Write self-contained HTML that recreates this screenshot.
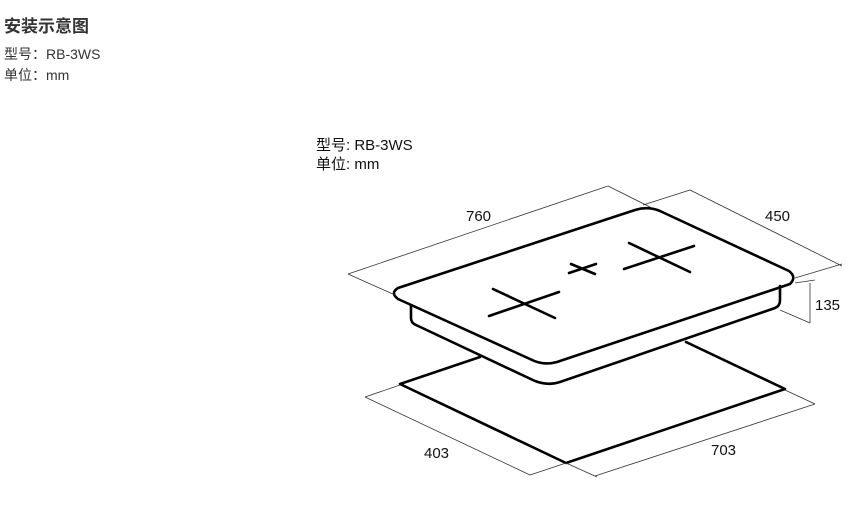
<!DOCTYPE html>
<html><head><meta charset="utf-8"><style>
body{margin:0;width:851px;height:527px;background:#fff;overflow:hidden;position:relative;font-family:"Liberation Sans","Noto Sans CJK SC",sans-serif;}
.t{position:absolute;white-space:nowrap;color:#333;}
</style></head><body>
<div class="t" style="left:4px;top:12px;font-size:17px;font-weight:bold;">安装示意图</div>
<div class="t" style="left:4px;top:44px;font-size:14px;">型号：RB-3WS</div>
<div class="t" style="left:4px;top:65px;font-size:14px;">单位：mm</div>
<svg width="851" height="527" style="position:absolute;left:0;top:0" font-family="Liberation Sans, Noto Sans CJK SC, sans-serif">
<text x="316" y="150" font-size="15" fill="#111">型号: RB-3WS</text>
<text x="316" y="169" font-size="15" fill="#111">单位: mm</text>
<g fill="none" stroke="#000" stroke-width="2.6" stroke-linejoin="round" stroke-linecap="round">
<path d="M480,357 L400,384 L566,463 L785,389 L686,342"/>
<path d="M398,288 L635,210 Q648,206 660,211 L789,271 Q797,277 790,284 L557,362 Q543,366 530,359 L398,299 Q390,293 398,288 Z" fill="#fff"/>
<path d="M411,305 L411,318 Q411,323 416,325 L535,381 Q548,386 560,382 L775,308 Q780,306 780,300 L780,286"/>
<path d="M489,316 L559,292 M493,289 L555,318 M569,273 L596,264 M571,264 L595,274 M624,269 L694,246 M629,243 L690,272"/>
</g>
<g fill="none" stroke="#333" stroke-width="0.8">
<path d="M348,274 L608,186 M348,274 L395,295 M608,186 L650,207 M643,205 L690,190 M690,190 L842,266 M795,278 L842,264 M810,283 L810,323 M780,310 L810,323 M795,283 L815,280 M365,397 L530,475 M365,397 L400,385 M530,475 L566,463 M595,476 L815,404 M785,390 L815,404 M566,463 L597,477"/>
</g>
<g font-size="15" fill="#111">
<text x="466" y="221">760</text>
<text x="765" y="221">450</text>
<text x="815" y="310">135</text>
<text x="424" y="458">403</text>
<text x="711" y="455">703</text>
</g>
</svg>
</body></html>
